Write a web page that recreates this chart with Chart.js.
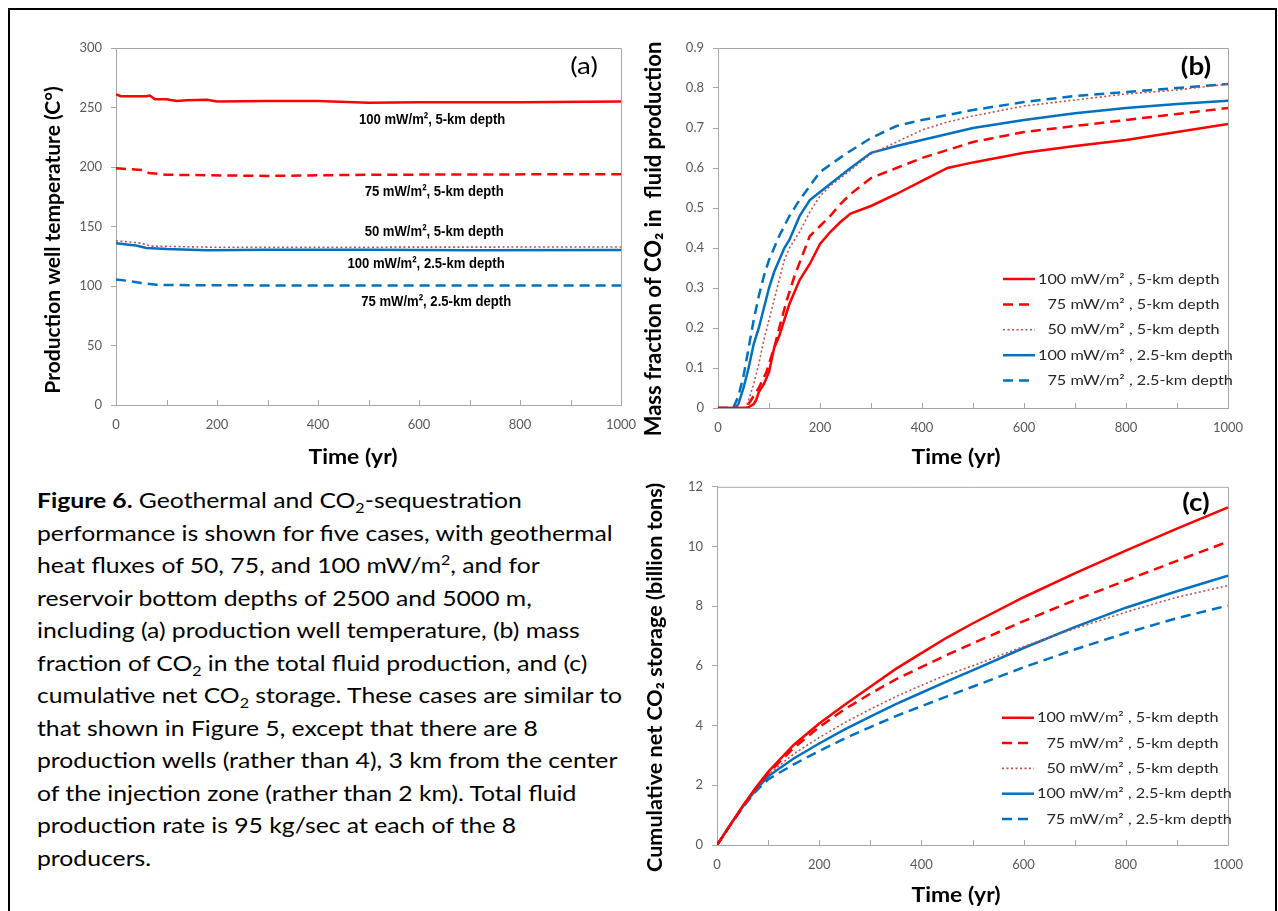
<!DOCTYPE html>
<html><head><meta charset="utf-8">
<script src="https://cdn.jsdelivr.net/npm/chart.js@4.4.1/dist/chart.umd.min.js"></script>
<style>
html,body{margin:0;padding:0;background:#fff;width:1278px;height:911px;overflow:hidden;}
#frame{position:absolute;left:8px;top:8px;width:1265px;height:960px;border:2px solid #000;}
canvas{position:absolute;}
#ca{left:0;top:20px;} #cb{left:640px;top:20px;} #cc{left:640px;top:470px;}
#caption{position:absolute;left:37px;top:484px;font-family:Lato,sans-serif;font-size:21.5px;line-height:32.5px;color:#000;white-space:nowrap;transform:scaleX(1.15);transform-origin:0 0;}
#caption sub,#caption sup{font-size:0.65em;line-height:0;}
</style></head><body>
<div id="frame"></div>
<canvas id="ca" width="640" height="460"></canvas>
<canvas id="cb" width="636" height="460"></canvas>
<canvas id="cc" width="636" height="441"></canvas>
<div id="caption"><b>Figure 6.</b> Geothermal and CO<sub>2</sub>-sequestration<br>
performance is shown for five cases, with geothermal<br>
heat fluxes of 50, 75, and 100 mW/m<sup>2</sup>, and for<br>
reservoir bottom depths of 2500 and 5000 m,<br>
including (a) production well temperature, (b) mass<br>
fraction of CO<sub>2</sub> in the total fluid production, and (c)<br>
cumulative net CO<sub>2</sub> storage. These cases are similar to<br>
that shown in Figure 5, except that there are 8<br>
production wells (rather than 4), 3 km from the center<br>
of the injection zone (rather than 2 km). Total fluid<br>
production rate is 95 kg/sec at each of the 8<br>
producers.</div>
<script>
// ---------- DATA ----------
const seriesLabels = ['100 mW/m² , 5-km depth','75 mW/m² , 5-km depth','50 mW/m² , 5-km depth','100 mW/m² , 2.5-km depth','75 mW/m² , 2.5-km depth'];
const noteLabels = ['100 mW/m², 5-km depth','75 mW/m², 5-km depth','50 mW/m², 5-km depth','100 mW/m², 2.5-km depth','75 mW/m², 2.5-km depth'];

// (a) production well temperature (°C)
const timeA_r100 = [0,10,60,67,77,100,120,140,180,200,300,400,500,600,800,1000];
const tempA_r100 = [261,259.5,259.5,260,257,257,255.5,256,256.5,255,255.5,255.5,254,254.5,254.5,255];
const timeA_r75 = [0,50,65,100,300,500,1000];
const tempA_r75 = [199,197.5,195,193.5,192.5,193.5,194];
const timeA_r50 = [0,50,70,200,1000];
const tempA_r50 = [138,136,133.5,132.5,132.8];
const timeA_b100 = [0,30,40,60,100,180,300,500,700,1000];
const tempA_b100 = [136,134.5,134,132,131,130,130.5,130.5,130,130.3];
const timeA_b75 = [0,20,50,80,100,300,1000];
const tempA_b75 = [105.5,104.5,102.5,101,100.8,100.5,100.5];

// (b) mass fraction of CO2 in fluid production
const timeB_r100 = [0,50,60,70,75,80,90,100,110,120,130,140,160,180,200,220,240,260,300,350,400,450,500,600,700,800,900,1000];
const fracB_r100 = [0,0,0.002,0.01,0.02,0.04,0.06,0.09,0.15,0.18,0.22,0.26,0.32,0.36,0.41,0.44,0.465,0.486,0.505,0.535,0.568,0.6,0.614,0.638,0.655,0.67,0.69,0.71];
const timeB_r75 = [0,55,65,80,95,110,120,135,150,165,180,200,220,240,260,300,350,400,450,500,600,700,800,900,1000];
const fracB_r75 = [0,0,0.02,0.05,0.09,0.15,0.2,0.27,0.33,0.38,0.43,0.455,0.48,0.51,0.535,0.575,0.6,0.625,0.645,0.665,0.69,0.705,0.72,0.735,0.75];
const timeB_r50 = [0,55,60,70,80,90,100,110,120,130,140,160,180,200,220,250,300,350,400,450,500,600,700,800,900,1000];
const fracB_r50 = [0,0,0.02,0.06,0.11,0.17,0.22,0.27,0.32,0.37,0.40,0.44,0.49,0.53,0.555,0.585,0.635,0.665,0.695,0.715,0.73,0.755,0.77,0.785,0.795,0.81];
const timeB_b100 = [0,34,40,50,60,70,80,90,100,110,120,130,140,150,160,180,200,220,240,260,300,350,400,500,600,700,800,900,1000];
const fracB_b100 = [0,0,0.01,0.05,0.1,0.16,0.2,0.25,0.3,0.34,0.37,0.4,0.42,0.45,0.48,0.52,0.54,0.56,0.58,0.6,0.638,0.655,0.67,0.7,0.72,0.737,0.75,0.76,0.768];
const timeB_b75 = [0,30,40,50,60,70,80,90,100,120,140,160,180,200,250,300,350,400,500,600,700,800,900,1000];
const fracB_b75 = [0,0,0.03,0.08,0.15,0.22,0.28,0.33,0.37,0.43,0.48,0.52,0.555,0.59,0.635,0.675,0.705,0.72,0.745,0.765,0.78,0.79,0.8,0.81];

// (c) cumulative net CO2 storage (billion tons)
const timeC = [0,25,50,75,100,150,200,250,300,350,400,450,500,600,700,800,900,1000];
const storC_r100 = [0,0.65,1.3,1.9,2.45,3.35,4.07,4.7,5.3,5.9,6.43,6.95,7.42,8.3,9.1,9.86,10.6,11.31];
const storC_r75 = [0,0.65,1.28,1.88,2.4,3.25,3.95,4.55,5.07,5.55,5.96,6.37,6.75,7.5,8.2,8.86,9.52,10.16];
const storC_r50 = [0,0.65,1.27,1.85,2.35,3.05,3.6,4.1,4.55,4.97,5.35,5.7,6.0,6.65,7.25,7.8,8.3,8.69];
const storC_b100 = [0,0.65,1.27,1.83,2.3,2.9,3.4,3.87,4.3,4.72,5.1,5.48,5.85,6.6,7.3,7.95,8.5,9.02];
const storC_b75 = [0,0.64,1.25,1.78,2.2,2.7,3.15,3.57,3.95,4.32,4.65,4.98,5.3,5.95,6.55,7.1,7.6,8.02];

// ---------- STYLES ----------
const RED = '#ff0000', DOT = '#c0504d', BLUE = '#0070c0';
const styles = [
  {borderColor: RED, borderWidth: 2.5, borderDash: []},
  {borderColor: RED, borderWidth: 2.5, borderDash: [10, 6]},
  {borderColor: DOT, borderWidth: 1.6, borderDash: [2, 2.5]},
  {borderColor: BLUE, borderWidth: 2.5, borderDash: []},
  {borderColor: BLUE, borderWidth: 2.5, borderDash: [10, 6]}
];
const pts = (xs, ys) => xs.map((x, i) => ({x, y: ys[i]}));
function makeDatasets(pairs) {
  return pairs.map((p, i) => Object.assign({label: seriesLabels[i], data: pts(p[0], p[1]), pointRadius: 0, tension: 0, fill: false}, styles[i]));
}

const TICK_FONT = {family: 'Lato', size: 13};
const GREY = '#a6a6a6';
const SX = 1.16; // horizontal text stretch seen in the reference

function xScale(h) {
  return {
    type: 'linear', min: 0, max: 1000,
    ticks: {stepSize: 100, autoSkip: false, maxRotation: 0, color: '#595959', font: TICK_FONT, padding: 3,
      callback: v => (v % 200 === 0 ? String(v) : '')},
    grid: {display: true, drawOnChartArea: false, drawTicks: true, tickLength: 9, tickColor: 'rgba(0,0,0,0)', color: GREY},
    border: {display: true, color: GREY, width: 1},
    afterFit: s => { s.height = h; }
  };
}
function yScale(min, max, step, w, fmt) {
  return {
    type: 'linear', min, max,
    ticks: {stepSize: step, color: '#595959', font: TICK_FONT, padding: 9, callback: fmt},
    grid: {display: true, drawOnChartArea: false, drawTicks: true, tickLength: 5, color: GREY, tickColor: GREY},
    border: {display: true, color: GREY, width: 1},
    afterFit: s => { s.width = w; }
  };
}

function drawText(ctx, text, x, y, font, sx, align) {
  ctx.save();
  ctx.font = font; ctx.textAlign = align || 'center'; ctx.textBaseline = 'middle';
  ctx.translate(x, y); ctx.scale(sx, 1); ctx.fillText(text, 0, 0);
  ctx.restore();
}

// box around plot + inside x tick marks
const boxTicks = {
  id: 'boxTicks',
  beforeDatasetsDraw(chart) {
    const {ctx, chartArea: a, scales: {x}} = chart;
    ctx.save(); ctx.strokeStyle = GREY; ctx.lineWidth = 1;
    ctx.beginPath();
    ctx.moveTo(a.left, a.top + 0.5); ctx.lineTo(a.right + 0.5, a.top + 0.5); ctx.lineTo(a.right + 0.5, a.bottom);
    x.ticks.forEach(t => { const px = Math.round(x.getPixelForValue(t.value)) + 0.5; ctx.moveTo(px, a.bottom); ctx.lineTo(px, a.bottom - 5); });
    ctx.stroke(); ctx.restore();
  }
};
function makeTitles(t) {
  return {id: 'axisTitles', afterDraw(chart) {
    const {ctx, chartArea: a} = chart;
    ctx.save(); ctx.fillStyle = '#000';
    drawText(ctx, t.xText, (a.left + a.right) / 2 + t.xDx, a.bottom + t.xDy, t.xFont, t.xSx, 'center');
    ctx.translate(a.left + t.yDx, (a.top + a.bottom) / 2 + t.yDy); ctx.rotate(-Math.PI / 2);
    ctx.font = t.yFont; ctx.textAlign = 'center'; ctx.textBaseline = 'middle';
    ctx.fillText(t.yText, 0, 0);
    ctx.restore();
  }};
}
function makePanel(text, dx, dy, font) {
  return {id: 'panel', afterDraw(chart) {
    const {ctx, chartArea: a} = chart;
    ctx.save(); ctx.fillStyle = '#000';
    drawText(ctx, text, a.right + dx, a.top + dy, font, SX, 'center');
    ctx.restore();
  }};
}
function makeLegend(o) {
  return {id: 'insetLegend', afterDraw(chart) {
    const {ctx, chartArea: a} = chart;
    ctx.save();
    ctx.font = o.font;
    const indent = ctx.measureText('1').width * SX;
    chart.data.datasets.forEach((ds, i) => {
      const y = a.top + o.top + i * o.gap, x0 = a.left + o.left;
      ctx.strokeStyle = ds.borderColor; ctx.lineWidth = ds.borderWidth; ctx.setLineDash(ds.borderDash || []);
      ctx.beginPath(); ctx.moveTo(x0, y); ctx.lineTo(x0 + o.len, y); ctx.stroke();
      ctx.setLineDash([]);
      ctx.fillStyle = '#262626';
      const ind = /^\d\d /.test(ds.label) ? indent : 0;
      drawText(ctx, ds.label, x0 + o.len + 3 + ind, y, o.font, SX, 'left');
    });
    ctx.restore();
  }};
}
function makeNotes(items, font, sx) {
  return {id: 'notes', afterDatasetsDraw(chart) {
    const {ctx, scales: {x, y}} = chart;
    ctx.save(); ctx.fillStyle = '#000';
    items.forEach(it => drawText(ctx, it.text, x.getPixelForValue(it.x), y.getPixelForValue(it.y), font, sx, 'center'));
    ctx.restore();
  }};
}

const baseOpts = (pad, xs, ys) => ({
  responsive: false, animation: false,
  layout: {padding: pad},
  plugins: {legend: {display: false}, tooltip: {enabled: false}},
  scales: {x: xs, y: ys}
});

// ---------- CHART (a) ----------
new Chart(document.getElementById('ca'), {
  type: 'line',
  data: {datasets: makeDatasets([[timeA_r100, tempA_r100], [timeA_r75, tempA_r75], [timeA_r50, tempA_r50], [timeA_b100, tempA_b100], [timeA_b75, tempA_b75]])},
  options: baseOpts({top: 28, right: 19, left: 0, bottom: 0}, xScale(75), yScale(0, 300, 50, 116, v => String(v))),
  plugins: [boxTicks,
    makeTitles({xText: 'Time (yr)', xFont: 'bold 21px Lato', xSx: 1.09, xDx: -15.5, xDy: 52,
      yText: 'Production well temperature (C°)', yFont: 'bold 21px Lato', yDx: -63, yDy: 13.5}),
    makePanel('(a)', -37, 18, '24px Lato'),
    makeNotes([
      {text: noteLabels[0], x: 626, y: 239.5},
      {text: noteLabels[1], x: 630, y: 179},
      {text: noteLabels[2], x: 630, y: 146},
      {text: noteLabels[3], x: 614, y: 118.5},
      {text: noteLabels[4], x: 634, y: 86.5}
    ], 'bold 15.5px "Liberation Sans", Arial, sans-serif', 0.845)]
});

// ---------- CHART (b) ----------
new Chart(document.getElementById('cb'), {
  type: 'line',
  data: {datasets: makeDatasets([[timeB_r100, fracB_r100], [timeB_r75, fracB_r75], [timeB_r50, fracB_r50], [timeB_b100, fracB_b100], [timeB_b75, fracB_b75]])},
  options: baseOpts({top: 28, right: 48, left: 0, bottom: 0}, xScale(72), yScale(0, 0.9, 0.1, 78, v => (v === 0 ? '0' : v.toFixed(1)))),
  plugins: [boxTicks,
    makeTitles({xText: 'Time (yr)', xFont: 'bold 21px Lato', xSx: 1.09, xDx: -17, xDy: 49,
      yText: 'Mass fraction of CO₂ in  fluid production', yFont: 'bold 22px Lato', yDx: -64, yDy: 11}),
    makePanel('(b)', -32, 19, 'bold 24px Lato'),
    makeLegend({left: 285, top: 231, gap: 25.4, len: 32, font: '14px Lato'})]
});

// ---------- CHART (c) ----------
new Chart(document.getElementById('cc'), {
  type: 'line',
  data: {datasets: makeDatasets([[timeC, storC_r100], [timeC, storC_r75], [timeC, storC_r50], [timeC, storC_b100], [timeC, storC_b75]])},
  options: baseOpts({top: 16, right: 48, left: 0, bottom: 0}, xScale(66), yScale(0, 12, 2, 77, v => String(v))),
  plugins: [boxTicks,
    makeTitles({xText: 'Time (yr)', xFont: 'bold 21px Lato', xSx: 1.09, xDx: -16.5, xDy: 50,
      yText: 'Cumulative net CO₂ storage (billion tons)', yFont: 'bold 21.6px Lato', yDx: -62, yDy: 11.5}),
    makePanel('(c)', -32, 16, 'bold 24px Lato'),
    makeLegend({left: 285, top: 231, gap: 25.3, len: 32, font: '14px Lato'})]
});
</script>
</body></html>
